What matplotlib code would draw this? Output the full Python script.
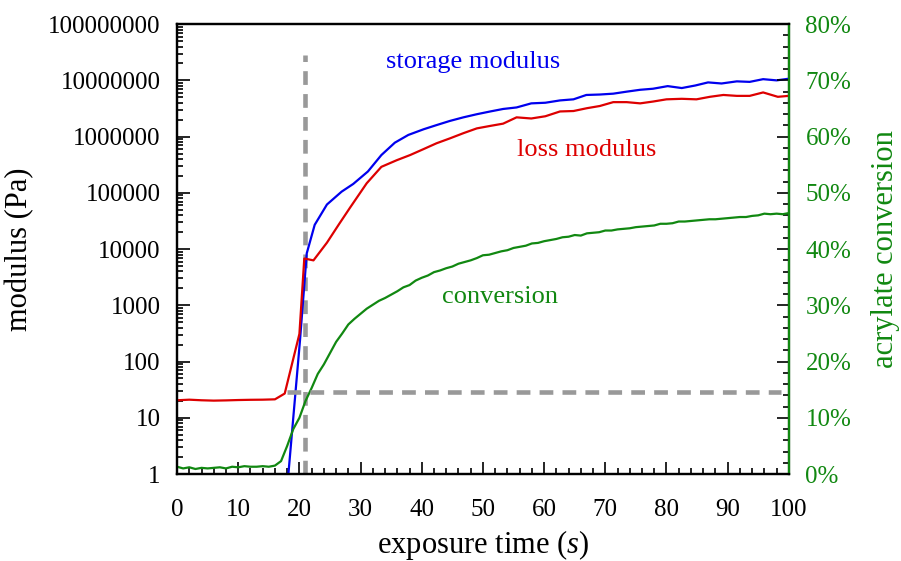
import matplotlib
matplotlib.use("agg")
import matplotlib.pyplot as plt
from matplotlib.ticker import LogLocator, MultipleLocator, FuncFormatter, NullFormatter

plt.rcParams['font.family'] = ['Liberation Serif', 'DejaVu Serif']
plt.rcParams['mathtext.fontset'] = 'custom'
plt.rcParams['mathtext.it'] = 'Liberation Serif:italic'

# storage modulus (Pa) vs exposure time (s)
t_storage = [18.2, 20.1, 21.2, 22.5, 24.5, 26.9, 28.8, 31.2, 33.4, 35.6, 37.8, 40.3,
             42.4, 44.6, 46.8, 49.0, 51.2, 53.3, 55.5, 57.9, 60.2, 62.6, 64.8, 66.9,
             69.1, 71.3, 73.5, 75.7, 77.8, 80.2, 82.5, 84.7, 86.8, 89.0, 91.5, 93.6,
             95.8, 98.0, 100.0]
storage = [1, 240, 8400, 27000, 62000, 105000, 144000, 240000, 470000, 780000,
           1070000, 1350000, 1600000, 1900000, 2200000, 2500000, 2800000, 3100000,
           3300000, 3900000, 4000000, 4400000, 4600000, 5500000, 5600000, 5800000,
           6300000, 6800000, 7100000, 7900000, 7300000, 8100000, 9200000, 8800000,
           9600000, 9400000, 10500000, 10000000, 10700000]

# loss modulus (Pa)
t_loss = [0, 2, 4, 6, 8, 10, 12, 14, 16, 17.6, 20.0, 20.8, 22.3, 24.5, 26.5, 28.3,
          31.0, 33.4, 35.9, 38.1, 40.3, 42.4, 44.6, 46.8, 49.0, 51.2, 53.3, 55.5,
          57.9, 60.2, 62.6, 64.8, 67.0, 69.1, 71.3, 73.5, 75.7, 77.8, 80.0, 82.5,
          84.9, 87.1, 89.3, 91.5, 93.6, 95.8, 98.2, 100.0]
loss = [20.5, 21, 20.5, 20.2, 20.4, 20.7, 20.9, 21.0, 21.3, 27, 310, 6800, 6300,
        13000, 28000, 55000, 148000, 290000, 380000, 470000, 600000, 760000, 930000,
        1150000, 1400000, 1550000, 1700000, 2200000, 2100000, 2300000, 2800000,
        2850000, 3200000, 3500000, 4100000, 4100000, 3900000, 4200000, 4600000,
        4700000, 4600000, 5100000, 5500000, 5300000, 5300000, 6100000, 5100000,
        5300000]

# acrylate conversion (%), one reading per second
t_conv = list(range(0, 101))
conversion = [1.3, 1.0, 1.2, 0.9, 1.1, 1.0, 1.1, 1.2, 1.0, 1.3,
              1.2, 1.4, 1.3, 1.3, 1.4, 1.3, 1.5, 2.3, 5.0, 8.0,
              10.0, 13.0, 15.3, 17.8, 19.5, 21.5, 23.5, 25.0, 26.6, 27.6,
              28.5, 29.4, 30.1, 30.8, 31.3, 31.9, 32.5, 33.2, 33.6, 34.4,
              34.9, 35.3, 35.9, 36.2, 36.6, 36.9, 37.4, 37.7, 38.0, 38.4,
              38.9, 39.0, 39.3, 39.6, 39.8, 40.2, 40.4, 40.6, 41.0, 41.1,
              41.4, 41.6, 41.8, 42.1, 42.2, 42.5, 42.4, 42.8, 42.9, 43.0,
              43.3, 43.3, 43.5, 43.6, 43.7, 43.9, 44.0, 44.1, 44.2, 44.5,
              44.5, 44.6, 44.9, 44.9, 45.0, 45.1, 45.2, 45.3, 45.3, 45.4,
              45.5, 45.6, 45.7, 45.7, 45.9, 46.0, 46.3, 46.2, 46.3, 46.2,
              46.4]

# gel point markers
gel_time = 20.9
gel_top = 2.8e7
gel_conv = 14.6
gel_line_start = 18.0
gel_line_end = 98.7

green = '#118811'
gray = '#999999'

fig = plt.figure(figsize=(9.01, 5.61), dpi=100)
ax = fig.add_axes([0.1965, 0.155, 0.679, 0.802])
ax2 = ax.twinx()

ax.set_yscale('log')
ax.set_xlim(0, 100)
ax.set_ylim(1, 1e8)
ax2.set_ylim(0, 80)

ax.plot(t_storage, storage, color='#0000ee', lw=1.6, zorder=3)
ax.plot(t_loss, loss, color='#dd0000', lw=1.6, zorder=3)
ax2.plot(t_conv, conversion, color=green, lw=1.6)

ax.plot([gel_time, gel_time], [1, gel_top], color=gray, lw=3.3, ls=(0, (3, 2)))
ax2.plot([gel_line_start, gel_line_end], [gel_conv, gel_conv], color=gray, lw=3.3,
         ls=(0, (3, 2)))

ax.text(48.4, 10 ** 7.32, 'storage modulus', color='#0000ee', fontsize=19,
        ha='center', va='center')
ax.text(67, 10 ** 5.76, 'loss modulus', color='#dd0000', fontsize=19,
        ha='center', va='center')
ax.text(52.8, 10 ** 3.15, 'conversion', color=green, fontsize=19,
        ha='center', va='center')

ax.yaxis.set_major_locator(LogLocator(base=10, numticks=20))
ax.yaxis.set_minor_locator(LogLocator(base=10, subs=range(2, 10), numticks=20))
ax.yaxis.set_major_formatter(FuncFormatter(lambda v, p: '%d' % round(v)))
ax.yaxis.set_minor_formatter(NullFormatter())
ax.xaxis.set_major_locator(MultipleLocator(10))
ax.xaxis.set_minor_locator(MultipleLocator(2))
ax2.yaxis.set_major_locator(MultipleLocator(10))
ax2.yaxis.set_minor_locator(MultipleLocator(2))
ax2.yaxis.set_major_formatter(FuncFormatter(lambda v, p: '%d%%' % round(v)))

ax.tick_params(which='both', direction='in', labelsize=18, width=1.2)
ax.tick_params(which='major', length=9)
ax.tick_params(which='minor', length=4.5)
ax.tick_params(axis='y', pad=12)
ax.tick_params(axis='x', pad=18)
ax2.tick_params(which='both', direction='in', labelsize=18, width=1.2,
                labelcolor=green, pad=12)
ax2.tick_params(which='major', length=9)
ax2.tick_params(which='minor', length=4.5)

for s in ax.spines.values():
    s.set_linewidth(1.6)
for s in ax2.spines.values():
    s.set_linewidth(1.6)
ax2.spines['right'].set_color(green)

ax.set_xlabel('exposure time ($s$)', fontsize=22, labelpad=5)
ax.set_ylabel('modulus (Pa)', fontsize=22, labelpad=10)
ax2.set_ylabel('acrylate conversion', fontsize=22, color=green, labelpad=14)

fig.savefig('out.png', dpi=100)
